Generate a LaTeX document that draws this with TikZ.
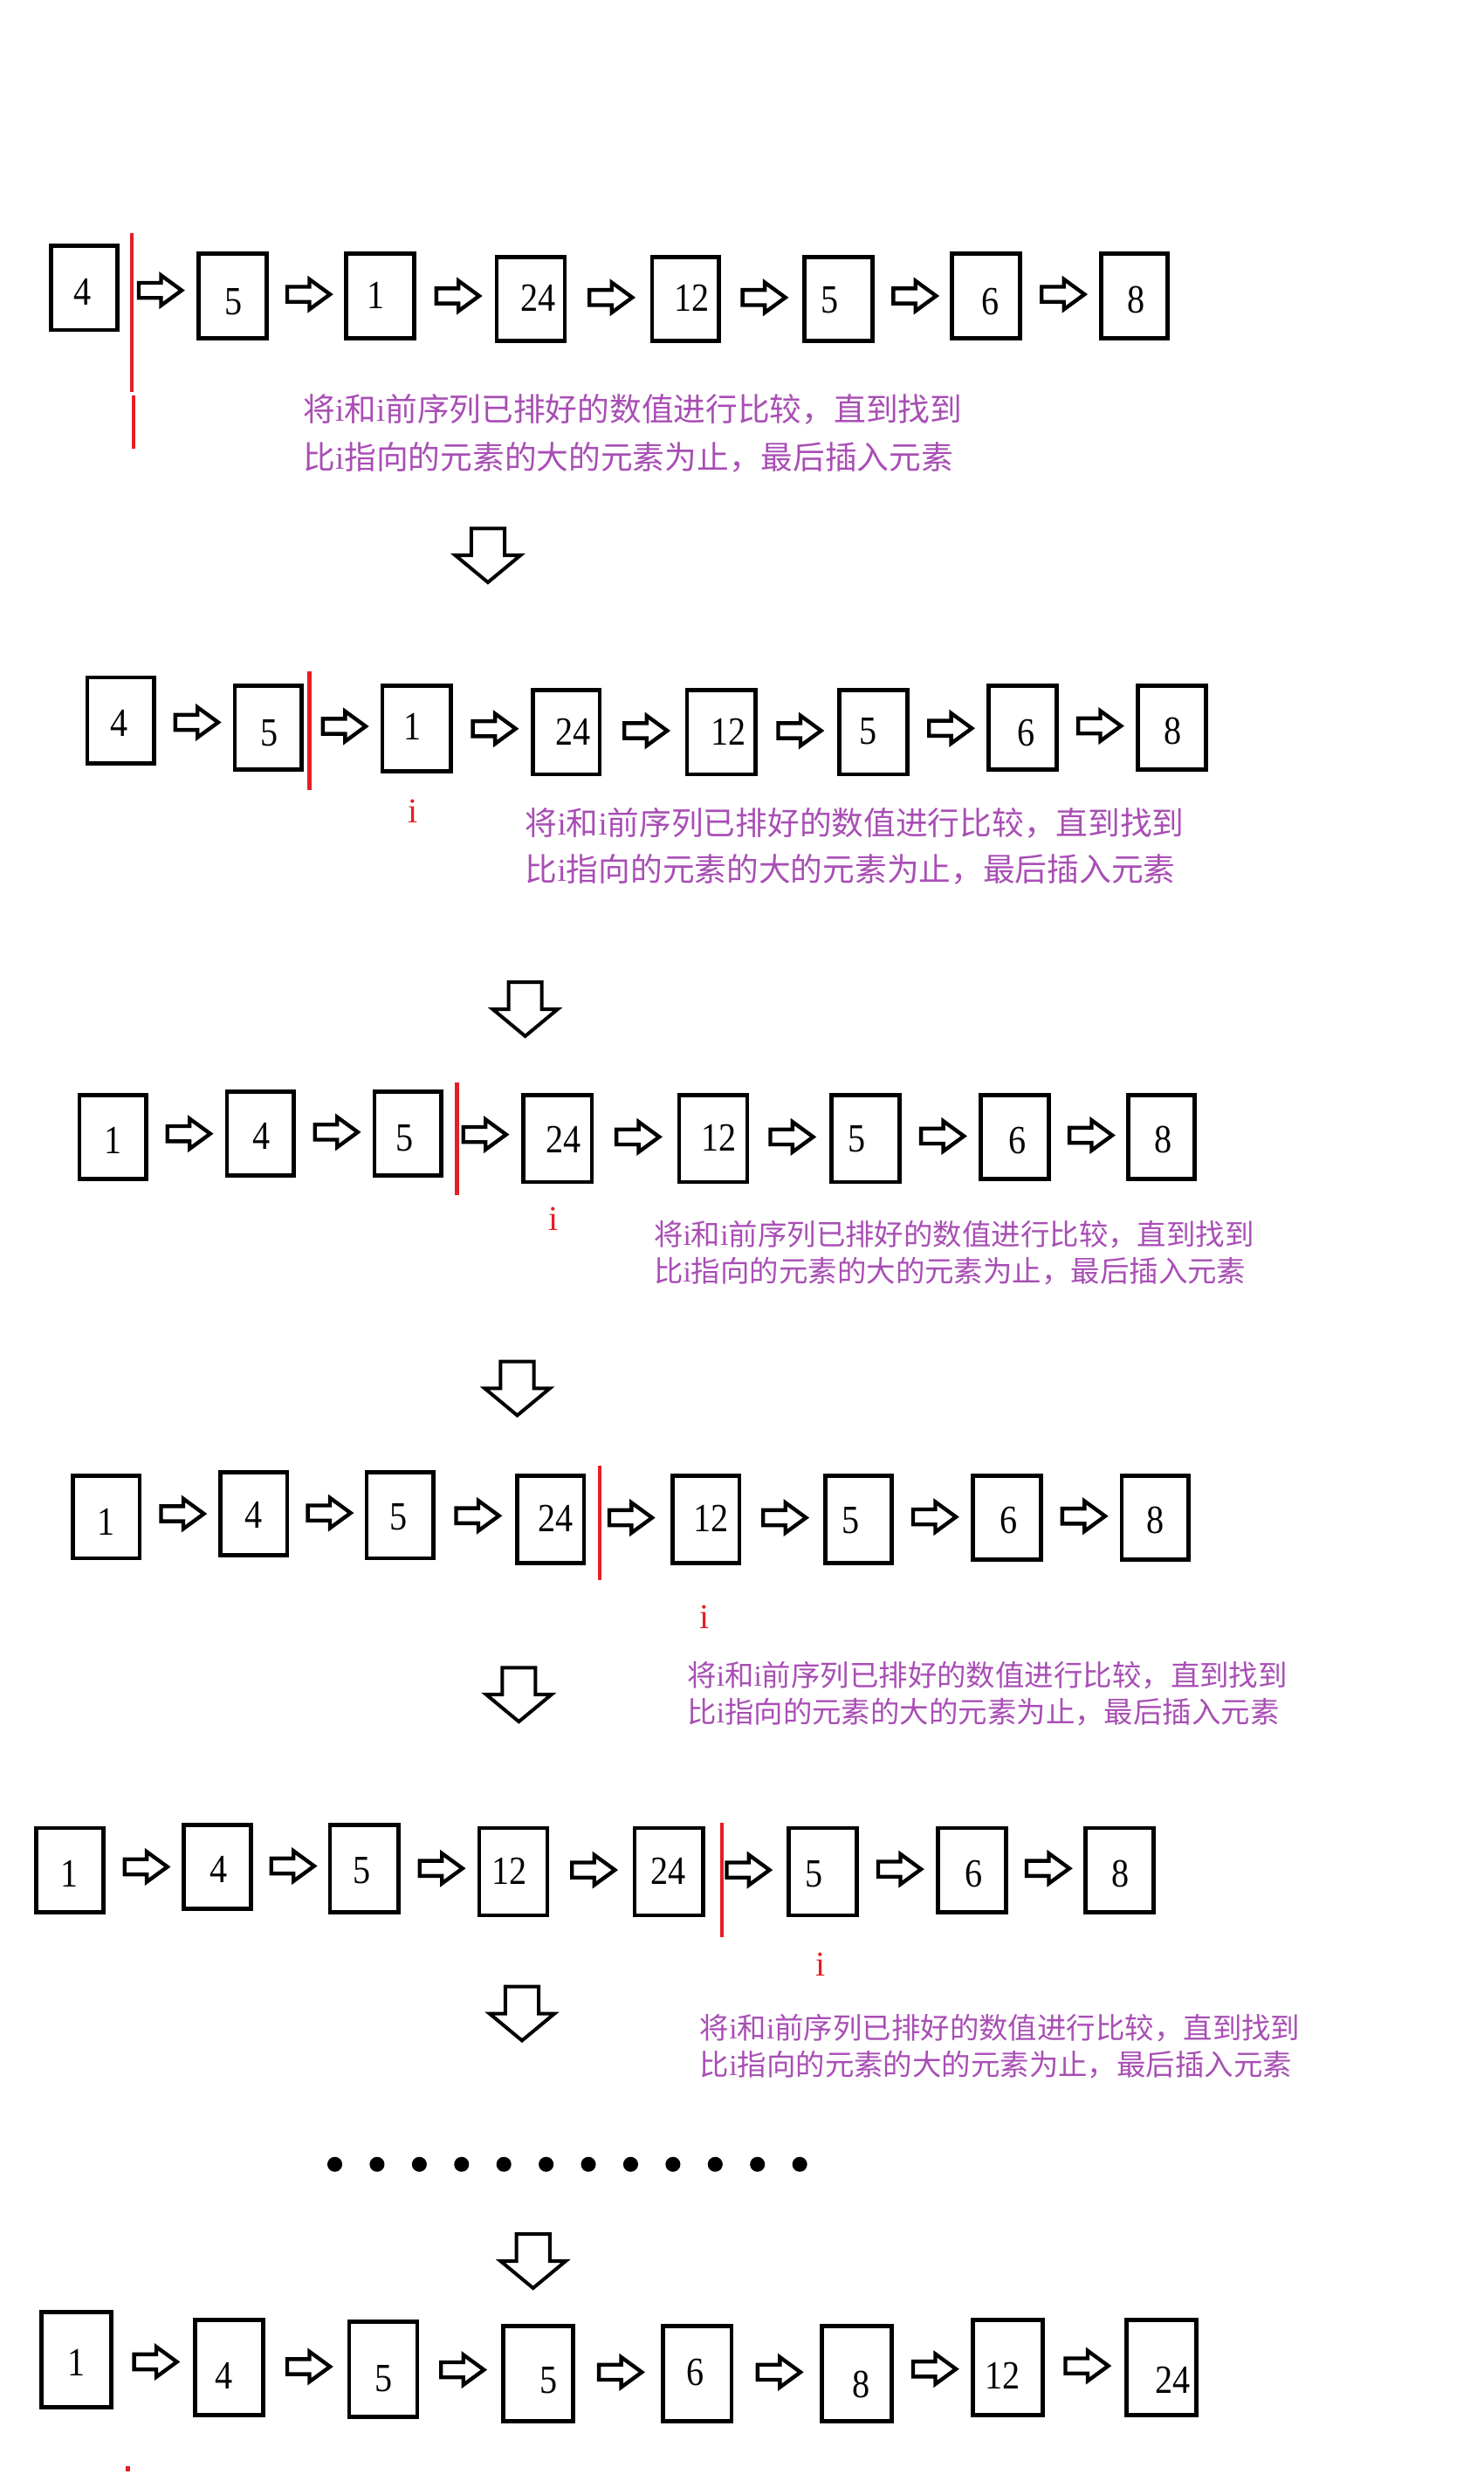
\documentclass[tikz,border=0pt]{standalone}
\usepackage{fontspec}
\setmainfont{Liberation Serif}
\newfontfamily\cjkf{Noto Sans CJK SC}
\usetikzlibrary{calc}
\definecolor{purp}{RGB}{168,78,180}
\definecolor{redl}{RGB}{228,30,36}
\newcommand\lat[1]{{\rmfamily #1}}
\newcommand\mkcell[8]{%
  \pgfmathsetmacro\mcx{(#2+#4)/2}\pgfmathsetmacro\mcy{(#3+#5)/2}%
  \pgfmathsetmacro\mcw{#4-#2}\pgfmathsetmacro\mch{#5-#3}%
  \node[box, minimum width=\mcw pt, minimum height=\mch pt] (#1) at (\mcx,\mcy) {};%
  \node[num] (#1n) at (#7,#8) {\scalebox{0.92}[1.05]{#6}};}
\newcommand\lnk[2]{\pic at ($(#1.east)!0.5!(#2.west)+(1.5,-1)$) {rarrow};}
\newcommand\lineA{将\lat{i}和\lat{i}前序列已排好的数值进行比较，直到找到}
\newcommand\lineB{比\lat{i}指向的元素的大的元素为止，最后插入元素}
\begin{document}
\begin{tikzpicture}[x=1pt,y=-1pt,
  box/.style={draw, line width=2.6pt, rectangle, inner sep=0pt},
  num/.style={inner sep=0pt, font=\fontsize{24}{24}\selectfont},
  notebig/.style={anchor=west, inner sep=0pt, text=purp, font=\cjkf\fontsize{20.2}{20.2}\selectfont},
  notesmall/.style={anchor=west, inner sep=0pt, text=purp, font=\cjkf\fontsize{18.4}{18.4}\selectfont},
  ptr/.style={text=redl, inner sep=0pt, font=\fontsize{22}{22}\selectfont},
  sepline/.style={draw=redl, line width=2.3pt},
  rarrow/.pic={\draw[line width=2.4pt, fill=white, line join=miter]
     (-13.5,-4.75) -- (0.5,-4.75) -- (0.5,-9.5) -- (13.5,0) -- (0.5,9.5) -- (0.5,4.75) -- (-13.5,4.75) -- cycle;},
  darrow/.pic={\draw[line width=2.2pt, fill=white, line join=miter]
     (-10.5,-17) -- (10.5,-17) -- (10.5,0) -- (20.5,0) -- (0,17) -- (-20.5,0) -- (-10.5,0) -- cycle;}
]
\useasboundingbox (0,0) rectangle (935,1568);

% ---------- Row 1 ----------
\mkcell{a1}{32}{155}{74}{208}{4}{52}{184}
\mkcell{a2}{125}{160}{168}{213}{5}{147}{190}
\mkcell{a3}{218}{160}{261}{213}{1}{237}{186}
\mkcell{a4}{313}{162}{356}{215}{24}{339}{188}
\mkcell{a5}{411}{162}{453}{215}{12}{436}{188}
\mkcell{a6}{507}{162}{550}{215}{5}{523}{189}
\mkcell{a7}{600}{160}{643}{213}{6}{624}{190}
\mkcell{a8}{694}{160}{736}{213}{8}{716}{189}
\lnk{a1}{a2}\lnk{a2}{a3}\lnk{a3}{a4}\lnk{a4}{a5}\lnk{a5}{a6}\lnk{a6}{a7}\lnk{a7}{a8}
\coordinate (s1a) at (83,147); \coordinate (s1b) at (83,247);
\coordinate (s1c) at (84,249); \coordinate (s1d) at (84,283);
\draw[sepline] (s1a) -- (s1b);
\draw[sepline] (s1c) -- (s1d);
\node[notebig] (t1a) at (191,258) {\lineA};
\node[notebig] (t1b) at (191,288) {\lineB};
\pic at (307.5,350) {darrow};

% ---------- Row 2 ----------
\mkcell{b1}{55}{427}{97}{481}{4}{75}{456}
\mkcell{b2}{148}{432}{190}{485}{5}{170}{462}
\mkcell{b3}{241}{432}{284}{486}{1}{260}{458}
\mkcell{b4}{336}{435}{378}{488}{24}{361}{461}
\mkcell{b5}{433}{435}{476}{488}{12}{459}{461}
\mkcell{b6}{529}{435}{572}{488}{5}{547}{461}
\mkcell{b7}{623}{432}{666}{485}{6}{647}{462}
\mkcell{b8}{717}{432}{760}{485}{8}{739}{461}
\lnk{b1}{b2}\lnk{b2}{b3}\lnk{b3}{b4}\lnk{b4}{b5}\lnk{b5}{b6}\lnk{b6}{b7}\lnk{b7}{b8}
\coordinate (s2a) at (195,423); \coordinate (s2b) at (195,498);
\draw[sepline] (s2a) -- (s2b);
\node[ptr] (i2) at (260,511) {i};
\node[notebig] (t2a) at (331,519) {\lineA};
\node[notebig] (t2b) at (331,548) {\lineB};
\pic at (331,636) {darrow};

% ---------- Row 3 ----------
\mkcell{c1}{50}{690}{92}{743}{1}{71}{719}
\mkcell{c2}{143}{688}{185}{741}{4}{165}{716}
\mkcell{c3}{236}{688}{278}{741}{5}{255}{717}
\mkcell{c4}{330}{690}{373}{745}{24}{355}{718}
\mkcell{c5}{428}{690}{471}{745}{12}{453}{717}
\mkcell{c6}{524}{690}{567}{745}{5}{540}{718}
\mkcell{c7}{618}{690}{661}{743}{6}{641}{719}
\mkcell{c8}{711}{690}{753}{743}{8}{733}{718}
\lnk{c1}{c2}\lnk{c2}{c3}\lnk{c3}{c4}\lnk{c4}{c5}\lnk{c5}{c6}\lnk{c6}{c7}\lnk{c7}{c8}
\coordinate (s3a) at (288,682); \coordinate (s3b) at (288,753);
\draw[sepline] (s3a) -- (s3b);
\node[ptr] (i3) at (349,768) {i};
\node[notesmall] (t3a) at (412,778) {\lineA};
\node[notesmall] (t3b) at (412,801) {\lineB};
\pic at (326,875) {darrow};

% ---------- Row 4 ----------
\mkcell{d1}{46}{930}{88}{982}{1}{67}{959}
\mkcell{d2}{139}{928}{181}{980}{4}{160}{955}
\mkcell{d3}{231}{928}{273}{982}{5}{251}{956}
\mkcell{d4}{326}{930}{368}{985}{24}{350}{957}
\mkcell{d5}{424}{930}{466}{985}{12}{448}{957}
\mkcell{d6}{520}{930}{562}{985}{5}{536}{958}
\mkcell{d7}{613}{930}{656}{983}{6}{636}{958}
\mkcell{d8}{707}{930}{749}{983}{8}{728}{958}
\lnk{d1}{d2}\lnk{d2}{d3}\lnk{d3}{d4}\lnk{d4}{d5}\lnk{d5}{d6}\lnk{d6}{d7}\lnk{d7}{d8}
\coordinate (s4a) at (378,924); \coordinate (s4b) at (378,996);
\draw[sepline] (s4a) -- (s4b);
\node[ptr] (i4) at (444,1019) {i};
\node[notesmall] (t4a) at (433,1056) {\lineA};
\node[notesmall] (t4b) at (433,1079) {\lineB};
\pic at (327,1068) {darrow};

% ---------- Row 5 ----------
\mkcell{e1}{23}{1152}{65}{1205}{1}{44}{1181}
\mkcell{e2}{116}{1150}{158}{1203}{4}{138}{1178}
\mkcell{e3}{208}{1150}{251}{1205}{5}{228}{1179}
\mkcell{e4}{302}{1152}{345}{1207}{12}{321}{1179}
\mkcell{e5}{400}{1152}{443}{1207}{24}{421}{1179}
\mkcell{e6}{497}{1152}{540}{1207}{5}{513}{1181}
\mkcell{e7}{591}{1152}{634}{1205}{6}{614}{1181}
\mkcell{e8}{684}{1152}{727}{1205}{8}{706}{1181}
\lnk{e1}{e2}\lnk{e2}{e3}\lnk{e3}{e4}\lnk{e4}{e5}\lnk{e5}{e6}\lnk{e6}{e7}\lnk{e7}{e8}
\coordinate (s5a) at (455,1149); \coordinate (s5b) at (455,1221);
\draw[sepline] (s5a) -- (s5b);
\node[ptr] (i5) at (517,1238) {i};
\node[notesmall] (t5a) at (441,1278) {\lineA};
\node[notesmall] (t5b) at (441,1301) {\lineB};
\pic at (329,1269) {darrow};

% ---------- dots ----------
\foreach \k in {0,...,11} \fill ({211+\k*26.64},1364) circle [radius=4.7];
\pic at (336,1425) {darrow};

% ---------- Row 6 ----------
\mkcell{f1}{26}{1457}{70}{1517}{1}{48}{1489}
\mkcell{f2}{123}{1462}{166}{1522}{4}{141}{1497}
\mkcell{f3}{220}{1463}{263}{1523}{5}{242}{1499}
\mkcell{f4}{317}{1466}{361}{1526}{5}{346}{1500}
\mkcell{f5}{418}{1466}{461}{1526}{6}{438}{1495}
\mkcell{f6}{518}{1466}{562}{1526}{8}{543}{1503}
\mkcell{f7}{613}{1462}{657}{1522}{12}{632}{1497}
\mkcell{f8}{710}{1462}{754}{1522}{24}{739}{1500}
\lnk{f1}{f2}\lnk{f2}{f3}\lnk{f3}{f4}\lnk{f4}{f5}\lnk{f5}{f6}\lnk{f6}{f7}\lnk{f7}{f8}
\fill[redl] (79,1554) rectangle (82,1557.5);
\end{tikzpicture}
\end{document}
